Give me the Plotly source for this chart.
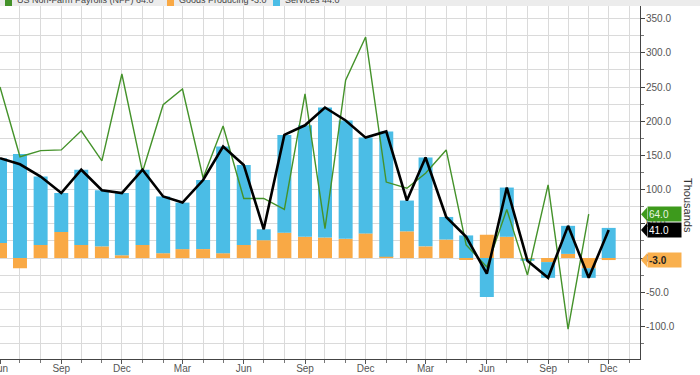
import plotly.graph_objects as go

months = ["2023-06-01", "2023-07-01", "2023-08-01", "2023-09-01", "2023-10-01", "2023-11-01",
          "2023-12-01", "2024-01-01", "2024-02-01", "2024-03-01", "2024-04-01", "2024-05-01",
          "2024-06-01", "2024-07-01", "2024-08-01", "2024-09-01", "2024-10-01", "2024-11-01",
          "2024-12-01", "2025-01-01", "2025-02-01", "2025-03-01", "2025-04-01", "2025-05-01",
          "2025-06-01", "2025-07-01", "2025-08-01", "2025-09-01", "2025-10-01", "2025-11-01",
          "2025-12-01"]

goods_producing = [22, -15, 19, 38, 19, 17, 4, 19, 7, 13, 13, 7, 19, 26, 37, 31, 30, 28, 36, 2,
                   39, 17, 27, -2, 34, 31, -1, -6, 6, -15, -3]
services = [124, 152, 100, 57, 110, 82, 91, 110, 83, 68, 101, 156, 117, 16, 143, 163, 190, 173,
            140, 183, 45, 130, 33, 33, -57, 72, -3, -23, 41, -14, 44]
private_total = [146, 137, 119, 95, 129, 99, 95, 129, 90, 81, 114, 163, 136, 42, 180, 194, 220,
                 201, 176, 185, 84, 147, 60, 31, -23, 103, -4, -29, 47, -29, 41]
nfp = [250, 148, 157, 158, 186, 142, 269, 126, 224, 247, 117, 193, 87, 87, 71, 240, 43, 260, 323,
       111, 102, 124, 158, 19, -13, 71, -25, 107, -104, 64, None]

y_ticks = [-100, -50, 0, 50, 100, 150, 200, 250, 300, 350]
y_tick_labels = ["-100.0", "-50.0", "0.0", "50.0", "100.0", "150.0", "200.0", "250.0", "300.0", "350.0"]

C_GREEN = "#44922a"
C_GOODS = "#f9a945"
C_SERV = "#4bbde6"

W, H = 700, 375
ML, MR, MT, MB = 0, 60, 6, 16
PW, PH = W - ML - MR, H - MT - MB
PX_PER_UNIT = 34.2 / 50
ZERO_Y = 258
y_max = (ZERO_Y - MT) / PX_PER_UNIT
y_min = -((H - MB) - ZERO_Y) / PX_PER_UNIT

day_ms = 86400000
fig = go.Figure()
fig.add_trace(go.Bar(x=months, y=goods_producing, marker_color=C_GOODS, marker_line_width=0,
                     width=21.0 * day_ms, name="Goods Producing"))
fig.add_trace(go.Bar(x=months, y=services, marker_color=C_SERV, marker_line_width=0,
                     width=21.0 * day_ms, name="Services"))
fig.add_trace(go.Scatter(x=months, y=nfp, mode="lines", line=dict(color=C_GREEN, width=1.4),
                         name="US Non-Farm Payrolls (NFP)"))
fig.add_trace(go.Scatter(x=months, y=private_total, mode="lines", line=dict(color="#000000", width=2.6),
                         name="Total"))

grid = "#dadada"
fig.update_layout(
    width=W, height=H, margin=dict(l=ML, r=MR, t=MT, b=MB, autoexpand=False),
    barmode="relative", showlegend=False,
    plot_bgcolor="white", paper_bgcolor="white",
    font=dict(family="Liberation Sans, Arial, sans-serif", size=10, color="#555"),
    xaxis=dict(type="date", range=["2023-06-01", "2026-01-17"], tick0="2023-06-01", dtick="M3",
               tickformat="%b", ticks="outside", ticklen=4, tickcolor="#555",
               showgrid=True, gridcolor=grid, gridwidth=1, automargin=False,
               minor=dict(dtick="M1", ticks="outside", ticklen=3, tickcolor="#777",
                          showgrid=True, gridcolor=grid),
               showline=True, linecolor="#444", linewidth=1, ticklabeloverflow="allow",
               ticklabelstandoff=-4,
               tickfont=dict(size=10, color="#555")),
    yaxis=dict(side="right", range=[y_min, y_max], tickvals=y_ticks, ticktext=y_tick_labels,
               ticks="outside", ticklen=4, tickcolor="#444", automargin=False,
               showgrid=True, gridcolor=grid,
               minor=dict(dtick=25, tick0=0, ticks="outside", ticklen=3, tickcolor="#777",
                          showgrid=True, gridcolor=grid),
               showline=True, linecolor="#444", linewidth=1, zeroline=False,
               ticklabelstandoff=-1,
               tickfont=dict(size=10, color="#555")),
)

# top legend strip (partially cut at top of frame)
fig.add_shape(type="rect", xref="paper", yref="paper", x0=0, x1=W / PW, y0=1, y1=1 + 8 / PH,
              fillcolor="#ececec", line_width=0, layer="above")
legend_items = [("US Non-Farm Payrolls (NFP) " + f"{nfp[-2]:.1f}", C_GREEN, 5),
                ("Goods Producing " + f"{goods_producing[-1]:.1f}", C_GOODS, 167),
                ("Services " + f"{services[-1]:.1f}", C_SERV, 273)]
for label, col, xp in legend_items:
    fig.add_shape(type="rect", xref="paper", yref="paper", x0=xp / PW, x1=(xp + 7) / PW,
                  y0=1 + 0 / PH, y1=1 + 10 / PH, fillcolor=col, line_width=0, layer="above")
    fig.add_annotation(xref="paper", yref="paper", x=(xp + 10) / PW, y=1 - 1 / PH, xanchor="left",
                       yanchor="bottom", showarrow=False, text=label,
                       font=dict(size=9, color="#444"))

# right side value tags
def tag(value, fill, txtcol, bold=False):
    half = 10
    x_tip, x_body = 641 / PW, 647 / PW
    path = (f"M {x_tip},{value} L {x_body},{value + half} "
            f"L {x_body},{value - half} Z")
    fig.add_shape(type="path", xref="paper", yref="y", path=path, fillcolor=fill,
                  line_width=0, layer="above")
    txt = f"{value:.1f}"
    if bold:
        txt = f"<b>{txt}</b>"
    fig.add_annotation(xref="paper", yref="y", x=646.5 / PW, y=value, xanchor="left",
                       yanchor="middle", showarrow=False, text=txt, align="left",
                       width=31, height=12, borderpad=1, bgcolor=fill,
                       font=dict(size=10, color=txtcol))

tag(nfp[-2], "#3d9a1c", "#e8f5e0")
tag(private_total[-1], "#000000", "#ffffff")
tag(goods_producing[-1], "#f9b04e", "#222222", bold=True)

fig.add_annotation(xref="paper", yref="paper", x=688 / PW, y=1 - (205 - MT) / PH,
                   text="Thousands", textangle=90, showarrow=False,
                   font=dict(size=11, color="#333"), xanchor="center", yanchor="middle")

fig.write_html("out.html", config={"displayModeBar": False},
               post_script="document.body.style.margin='0px';")
